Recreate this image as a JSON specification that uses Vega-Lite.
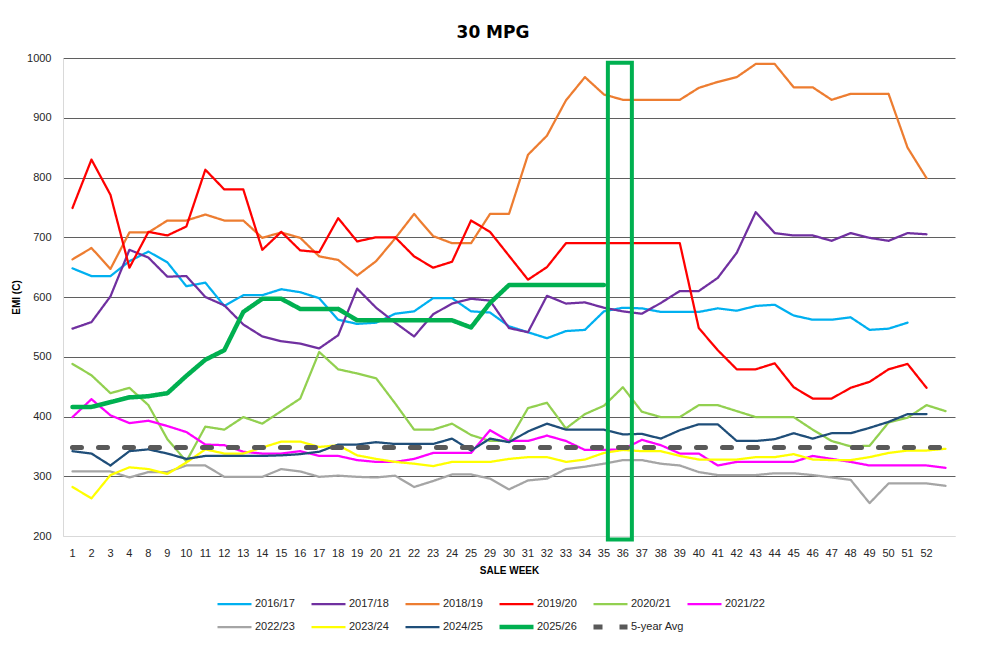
{
  "$schema": "https://vega.github.io/schema/vega-lite/v6.json",
  "width": 892,
  "height": 478,
  "autosize": {"type": "none"},
  "padding": {"left": 63, "top": 58, "right": 32, "bottom": 112},
  "background": "white",
  "title": {"text": "30 MPG", "font": "DejaVu Sans", "fontSize": 17, "fontWeight": "bold", "color": "#000000", "anchor": "middle", "dx": -16, "offset": 10},
  "config": {"view": {"stroke": null}, "font": "Liberation Sans"},
  "layer": [
    {
      "data": {"values": [
        {"w":"1","2016/17":648,"2017/18":547,"2018/19":663,"2019/20":749,"2020/21":488,"2021/22":399,"2022/23":308,"2023/24":282,"2024/25":342,"2025/26":416,"5-year Avg":348},
        {"w":"2","2016/17":635,"2017/18":558,"2018/19":682,"2019/20":830,"2020/21":469,"2021/22":429,"2022/23":308,"2023/24":263,"2024/25":338,"2025/26":416,"5-year Avg":348},
        {"w":"3","2016/17":635,"2017/18":601,"2018/19":647,"2019/20":771,"2020/21":439,"2021/22":402,"2022/23":308,"2023/24":302,"2024/25":318,"2025/26":424,"5-year Avg":348},
        {"w":"4","2016/17":660,"2017/18":679,"2018/19":708,"2019/20":649,"2020/21":448,"2021/22":389,"2022/23":298,"2023/24":315,"2024/25":342,"2025/26":432,"5-year Avg":348},
        {"w":"8","2016/17":676,"2017/18":666,"2018/19":708,"2019/20":709,"2020/21":419,"2021/22":393,"2022/23":307,"2023/24":312,"2024/25":345,"2025/26":434,"5-year Avg":348},
        {"w":"9","2016/17":658,"2017/18":634,"2018/19":728,"2019/20":703,"2020/21":362,"2021/22":384,"2022/23":307,"2023/24":304,"2024/25":338,"2025/26":439,"5-year Avg":348},
        {"w":"10","2016/17":618,"2017/18":635,"2018/19":728,"2019/20":718,"2020/21":325,"2021/22":374,"2022/23":318,"2023/24":323,"2024/25":329,"2025/26":468,"5-year Avg":348},
        {"w":"11","2016/17":624,"2017/18":600,"2018/19":738,"2019/20":813,"2020/21":383,"2021/22":353,"2022/23":318,"2023/24":345,"2024/25":334,"2025/26":495,"5-year Avg":348},
        {"w":"12","2016/17":585,"2017/18":586,"2018/19":728,"2019/20":780,"2020/21":378,"2021/22":352,"2022/23":299,"2023/24":338,"2024/25":334,"2025/26":511,"5-year Avg":348},
        {"w":"13","2016/17":603,"2017/18":554,"2018/19":728,"2019/20":780,"2020/21":399,"2021/22":341,"2022/23":299,"2023/24":338,"2024/25":334,"2025/26":575,"5-year Avg":348},
        {"w":"14","2016/17":603,"2017/18":534,"2018/19":699,"2019/20":679,"2020/21":388,"2021/22":338,"2022/23":299,"2023/24":348,"2024/25":334,"2025/26":597,"5-year Avg":348},
        {"w":"15","2016/17":613,"2017/18":526,"2018/19":708,"2019/20":709,"2020/21":409,"2021/22":338,"2022/23":312,"2023/24":358,"2024/25":335,"2025/26":597,"5-year Avg":348},
        {"w":"16","2016/17":608,"2017/18":522,"2018/19":699,"2019/20":678,"2020/21":430,"2021/22":342,"2022/23":308,"2023/24":358,"2024/25":337,"2025/26":580,"5-year Avg":348},
        {"w":"17","2016/17":598,"2017/18":514,"2018/19":668,"2019/20":675,"2020/21":508,"2021/22":334,"2022/23":299,"2023/24":349,"2024/25":341,"2025/26":580,"5-year Avg":348},
        {"w":"18","2016/17":562,"2017/18":536,"2018/19":662,"2019/20":732,"2020/21":479,"2021/22":334,"2022/23":301,"2023/24":352,"2024/25":353,"2025/26":580,"5-year Avg":348},
        {"w":"19","2016/17":555,"2017/18":614,"2018/19":636,"2019/20":693,"2020/21":472,"2021/22":327,"2022/23":299,"2023/24":335,"2024/25":353,"2025/26":561,"5-year Avg":348},
        {"w":"20","2016/17":557,"2017/18":582,"2018/19":660,"2019/20":700,"2020/21":464,"2021/22":324,"2022/23":298,"2023/24":329,"2024/25":357,"2025/26":561,"5-year Avg":348},
        {"w":"21","2016/17":572,"2017/18":557,"2018/19":698,"2019/20":700,"2020/21":422,"2021/22":324,"2022/23":301,"2023/24":324,"2024/25":354,"2025/26":561,"5-year Avg":348},
        {"w":"22","2016/17":576,"2017/18":534,"2018/19":739,"2019/20":668,"2020/21":378,"2021/22":329,"2022/23":282,"2023/24":321,"2024/25":354,"2025/26":561,"5-year Avg":348},
        {"w":"23","2016/17":598,"2017/18":571,"2018/19":702,"2019/20":649,"2020/21":378,"2021/22":339,"2022/23":292,"2023/24":317,"2024/25":354,"2025/26":561,"5-year Avg":348},
        {"w":"24","2016/17":598,"2017/18":589,"2018/19":690,"2019/20":659,"2020/21":388,"2021/22":339,"2022/23":303,"2023/24":324,"2024/25":363,"2025/26":561,"5-year Avg":348},
        {"w":"25","2016/17":576,"2017/18":597,"2018/19":690,"2019/20":728,"2020/21":369,"2021/22":339,"2022/23":303,"2023/24":324,"2024/25":343,"2025/26":549,"5-year Avg":348},
        {"w":"29","2016/17":574,"2017/18":594,"2018/19":739,"2019/20":709,"2020/21":359,"2021/22":377,"2022/23":296,"2023/24":324,"2024/25":363,"2025/26":590,"5-year Avg":348},
        {"w":"30","2016/17":551,"2017/18":548,"2018/19":739,"2019/20":669,"2020/21":359,"2021/22":359,"2022/23":278,"2023/24":329,"2024/25":357,"2025/26":620,"5-year Avg":348},
        {"w":"31","2016/17":541,"2017/18":541,"2018/19":838,"2019/20":629,"2020/21":414,"2021/22":359,"2022/23":293,"2023/24":332,"2024/25":375,"2025/26":620,"5-year Avg":348},
        {"w":"32","2016/17":531,"2017/18":602,"2018/19":870,"2019/20":650,"2020/21":423,"2021/22":368,"2022/23":296,"2023/24":332,"2024/25":388,"2025/26":620,"5-year Avg":348},
        {"w":"33","2016/17":543,"2017/18":589,"2018/19":929,"2019/20":690,"2020/21":380,"2021/22":359,"2022/23":312,"2023/24":324,"2024/25":378,"2025/26":620,"5-year Avg":348},
        {"w":"34","2016/17":545,"2017/18":591,"2018/19":968,"2019/20":690,"2020/21":404,"2021/22":344,"2022/23":316,"2023/24":328,"2024/25":378,"2025/26":620,"5-year Avg":348},
        {"w":"35","2016/17":576,"2017/18":582,"2018/19":939,"2019/20":690,"2020/21":418,"2021/22":344,"2022/23":321,"2023/24":339,"2024/25":378,"2025/26":620,"5-year Avg":348},
        {"w":"36","2016/17":582,"2017/18":576,"2018/19":930,"2019/20":690,"2020/21":449,"2021/22":345,"2022/23":327,"2023/24":344,"2024/25":370,"5-year Avg":348},
        {"w":"37","2016/17":581,"2017/18":572,"2018/19":930,"2019/20":690,"2020/21":408,"2021/22":361,"2022/23":327,"2023/24":342,"2024/25":371,"5-year Avg":348},
        {"w":"38","2016/17":575,"2017/18":590,"2018/19":930,"2019/20":690,"2020/21":399,"2021/22":352,"2022/23":321,"2023/24":342,"2024/25":363,"5-year Avg":348},
        {"w":"39","2016/17":575,"2017/18":610,"2018/19":930,"2019/20":690,"2020/21":399,"2021/22":338,"2022/23":318,"2023/24":334,"2024/25":377,"5-year Avg":348},
        {"w":"40","2016/17":575,"2017/18":610,"2018/19":950,"2019/20":548,"2020/21":419,"2021/22":338,"2022/23":307,"2023/24":328,"2024/25":387,"5-year Avg":348},
        {"w":"41","2016/17":581,"2017/18":632,"2018/19":960,"2019/20":511,"2020/21":419,"2021/22":318,"2022/23":302,"2023/24":328,"2024/25":387,"5-year Avg":348},
        {"w":"42","2016/17":577,"2017/18":674,"2018/19":968,"2019/20":479,"2020/21":409,"2021/22":324,"2022/23":302,"2023/24":328,"2024/25":359,"5-year Avg":348},
        {"w":"43","2016/17":585,"2017/18":742,"2018/19":990,"2019/20":479,"2020/21":399,"2021/22":324,"2022/23":302,"2023/24":332,"2024/25":359,"5-year Avg":348},
        {"w":"44","2016/17":587,"2017/18":707,"2018/19":990,"2019/20":489,"2020/21":399,"2021/22":324,"2022/23":305,"2023/24":332,"2024/25":362,"5-year Avg":348},
        {"w":"45","2016/17":569,"2017/18":703,"2018/19":951,"2019/20":449,"2020/21":399,"2021/22":324,"2022/23":305,"2023/24":337,"2024/25":372,"5-year Avg":348},
        {"w":"46","2016/17":562,"2017/18":703,"2018/19":951,"2019/20":430,"2020/21":378,"2021/22":334,"2022/23":302,"2023/24":328,"2024/25":363,"5-year Avg":348},
        {"w":"47","2016/17":562,"2017/18":694,"2018/19":930,"2019/20":430,"2020/21":359,"2021/22":329,"2022/23":298,"2023/24":327,"2024/25":372,"5-year Avg":348},
        {"w":"48","2016/17":566,"2017/18":707,"2018/19":940,"2019/20":448,"2020/21":350,"2021/22":324,"2022/23":294,"2023/24":327,"2024/25":372,"5-year Avg":348},
        {"w":"49","2016/17":545,"2017/18":699,"2018/19":940,"2019/20":458,"2020/21":351,"2021/22":318,"2022/23":255,"2023/24":332,"2024/25":381,"5-year Avg":348},
        {"w":"50","2016/17":547,"2017/18":694,"2018/19":940,"2019/20":479,"2020/21":390,"2021/22":318,"2022/23":288,"2023/24":339,"2024/25":391,"5-year Avg":348},
        {"w":"51","2016/17":557,"2017/18":707,"2018/19":850,"2019/20":488,"2020/21":398,"2021/22":318,"2022/23":288,"2023/24":343,"2024/25":404,"5-year Avg":348},
        {"w":"52","2017/18":705,"2018/19":799,"2019/20":448,"2020/21":419,"2021/22":318,"2022/23":288,"2023/24":343,"2024/25":404,"5-year Avg":348},
        {"w":" ","2020/21":409,"2021/22":314,"2022/23":284,"2023/24":346,"5-year Avg":348}
      ]},
      "transform": [{"fold": ["2016/17","2017/18","2018/19","2019/20","2020/21","2021/22","2022/23","2023/24","2024/25","2025/26","5-year Avg"], "as": ["s", "v"]}],
      "mark": {"type": "line", "strokeJoin": "round", "strokeCap": "round"},
      "encoding": {
        "x": {
          "field": "w", "type": "ordinal", "bandPosition": 0.5,
          "scale": {"type": "band", "paddingInner": 0, "paddingOuter": 0, "domain": ["1","2","3","4","8","9","10","11","12","13","14","15","16","17","18","19","20","21","22","23","24","25","29","30","31","32","33","34","35","36","37","38","39","40","41","42","43","44","45","46","47","48","49","50","51","52"," "]},
          "axis": {"title": "SALE WEEK", "labelAngle": 0, "ticks": false, "grid": false, "domainColor": "#D9D9D9", "domainWidth": 1, "labelFont": "Liberation Sans", "labelFontSize": 11, "labelColor": "#262626", "labelPadding": 11, "titleFont": "Liberation Sans", "titleFontSize": 10, "titleFontWeight": "bold", "titleColor": "#000000", "titlePadding": 7}
        },
        "y": {
          "field": "v", "type": "quantitative",
          "scale": {"domain": [200, 1000], "nice": false, "zero": false},
          "axis": {"title": "EMI (C)", "format": "d", "values": [200,300,400,500,600,700,800,900,1000], "ticks": false, "domainColor": "#D9D9D9", "grid": true, "gridColor": {"condition": {"test": "datum.value === 200", "value": "#D9D9D9"}, "value": "#5F5F5F"}, "gridWidth": 1, "labelFont": "Liberation Sans", "labelFontSize": 11, "labelColor": "#262626", "labelPadding": 12, "titleFont": "Liberation Sans", "titleFontSize": 10, "titleFontWeight": "bold", "titleColor": "#000000", "titlePadding": 5}
        },
        "color": {
          "field": "s", "type": "nominal",
          "scale": {"domain": ["2016/17","2017/18","2018/19","2019/20","2020/21","2021/22","2022/23","2023/24","2024/25","2025/26","5-year Avg"], "range": ["#00B0F0","#7030A0","#ED7D31","#FF0000","#92D050","#FF00FF","#A5A5A5","#FFFF00","#1F4E79","#00B050","#595959"]},
          "legend": {"title": null, "orient": "none", "legendX": 152, "legendY": 538, "direction": "horizontal", "columns": 6, "gridAlign": "all", "symbolType": "stroke", "symbolSize": 1156, "clipHeight": 16, "rowPadding": 7, "columnPadding": 1, "labelOffset": 1, "symbolOffset": 0, "padding": 0, "labelFont": "Liberation Sans", "labelFontSize": 11, "labelColor": "#262626"}
        },
        "strokeWidth": {
          "field": "s", "type": "nominal",
          "scale": {"type": "ordinal", "domain": ["2016/17","2017/18","2018/19","2019/20","2020/21","2021/22","2022/23","2023/24","2024/25","2025/26","5-year Avg"], "range": [2.25,2.25,2.25,2.25,2.25,2.25,2.25,2.25,2.25,4.5,5]},
          "legend": {"title": null, "orient": "none", "legendX": 152, "legendY": 538, "direction": "horizontal", "columns": 6, "gridAlign": "all", "symbolType": "stroke", "symbolSize": 1156, "clipHeight": 16, "rowPadding": 7, "columnPadding": 1, "labelOffset": 1, "symbolOffset": 0, "padding": 0, "labelFont": "Liberation Sans", "labelFontSize": 11, "labelColor": "#262626"}
        },
        "strokeDash": {
          "field": "s", "type": "nominal",
          "scale": {"domain": ["2016/17","2017/18","2018/19","2019/20","2020/21","2021/22","2022/23","2023/24","2024/25","2025/26","5-year Avg"], "range": [[1,0],[1,0],[1,0],[1,0],[1,0],[1,0],[1,0],[1,0],[1,0],[1,0],[9,17]]},
          "legend": {"title": null, "orient": "none", "legendX": 152, "legendY": 538, "direction": "horizontal", "columns": 6, "gridAlign": "all", "symbolType": "stroke", "symbolSize": 1156, "clipHeight": 16, "rowPadding": 7, "columnPadding": 1, "labelOffset": 1, "symbolOffset": 0, "padding": 0, "labelFont": "Liberation Sans", "labelFontSize": 11, "labelColor": "#262626"}
        }
      }
    },
    {
      "data": {"values": [{"w": "36", "lo": 194, "hi": 992}]},
      "mark": {"type": "bar", "filled": false, "color": "#00B050", "strokeWidth": 4, "width": 24, "xOffset": -3},
      "encoding": {
        "x": {"field": "w", "type": "ordinal", "bandPosition": 0.5},
        "y": {"field": "hi", "type": "quantitative"},
        "y2": {"field": "lo"}
      }
    }
  ]
}
